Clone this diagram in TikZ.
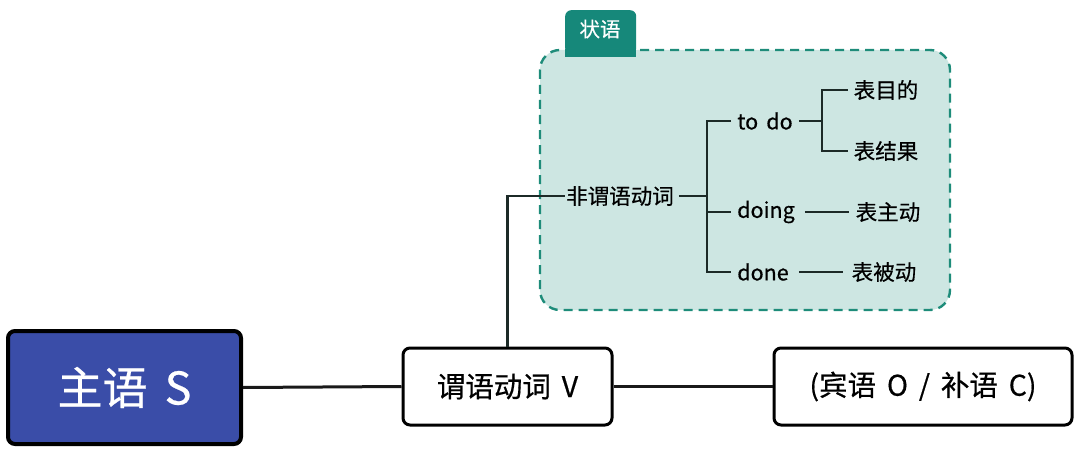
\documentclass[tikz,border=0pt]{standalone}
\usepackage{fontspec}
\setmainfont{Noto Sans CJK SC}[FakeBold=0.5]
\usetikzlibrary{positioning}
\definecolor{sblue}{HTML}{3A4DA8}
\definecolor{tealfill}{HTML}{CDE6E2}
\definecolor{tealline}{HTML}{1E8C7A}
\definecolor{tealtab}{HTML}{16887A}
\definecolor{treeline}{HTML}{1C2A27}
\newcommand{\wsp}{\hspace{0.38em}}
\tikzset{
  mainbox/.style={draw=black,line width=3pt,rounded corners=7pt,fill=white,inner sep=0pt},
  leaf/.style={font=\fontsize{21.5}{24}\selectfont,text=black,inner sep=1pt},
  tline/.style={draw=treeline,line width=2.6pt},
  mline/.style={draw=black!90,line width=3pt},
}
\begin{document}
\begin{tikzpicture}[x=1pt,y=-1pt]
\useasboundingbox (0,0) rectangle (1080,452);
% adverbial region
\node[fill=tealtab,rounded corners=6pt,minimum width=71pt,minimum height=44pt,anchor=north west,inner sep=0pt] (tab) at (565,10) {};
\node[text=white,font=\fontsize{20.5}{22}\selectfont] (tabtxt) at (600,29) {状语};
\draw[tealline,fill=tealfill,line width=2.4pt,dash pattern=on 9pt off 6pt,rounded corners=20pt] (540,50) rectangle (950,310);
\node[fill=tealtab,minimum width=71pt,minimum height=8pt,anchor=north west,inner sep=0pt] (tabbase) at (565,48.8) {};
% main boxes
\node[mainbox,fill=sblue,line width=4pt,minimum width=233pt,minimum height=113pt,text=white,font=\fontsize{45}{50}\selectfont] (S) at (124.5,387.5) {主语\wsp S};
\node[mainbox,minimum width=209pt,minimum height=77pt,font=\fontsize{28.5}{32}\selectfont] (V) at (507.5,386.5) {谓语动词\wsp V};
\node[mainbox,minimum width=298pt,minimum height=77pt,font=\fontsize{28.5}{32}\selectfont] (O) at (923,386.5) {(宾语\wsp O\wsp /\wsp 补语\wsp C)};
\draw[mline] (S.east) -- (V.west);
\draw[mline] (V.east) -- (O.west);
% tree
\node[leaf] (F) at (620,196) {非谓语动词};
\node[leaf] (todo) at (765,121) {to\wsp do};
\node[leaf] (doing) at (766,212) {doing};
\node[leaf] (done) at (763,272) {done};
\node[leaf] (mu) at (886,90) {表目的};
\node[leaf] (jg) at (886,151) {表结果};
\node[leaf] (zd) at (888,212) {表主动};
\node[leaf] (bd) at (884,272) {表被动};
\coordinate (j1) at (707,196);
\coordinate (j2) at (822,121);
\draw[line width=2.2pt,treeline] (V.north) |- (F.west);
\draw[tline] ([xshift=4pt]F.east) -- (j1);
\draw[tline] ([xshift=-5pt]todo.west) -| (j1) |- ([xshift=-5pt]done.west);
\draw[tline] (j1 |- doing) -- ([xshift=-5pt]doing.west);
\draw[tline] ([xshift=5pt]todo.east) -- (j2);
\draw[tline] ([xshift=-5pt]mu.west) -| (j2) |- ([xshift=-5pt]jg.west);
\draw[tline] (doing.east) ++(9pt,0) -- ([xshift=-6pt]zd.west);
\draw[tline] (done.east) ++(9pt,0) -- ([xshift=-8pt]bd.west);
\end{tikzpicture}
\end{document}
